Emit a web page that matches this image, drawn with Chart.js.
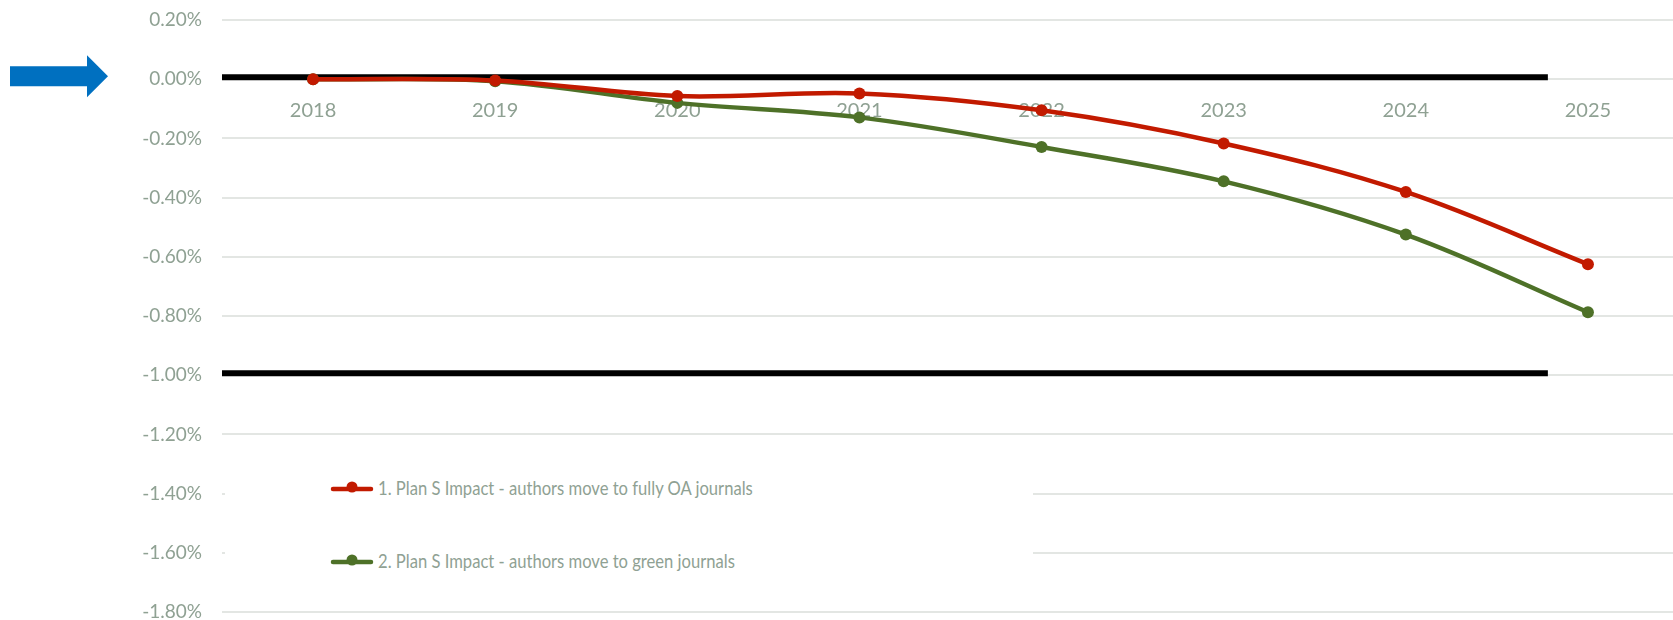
<!DOCTYPE html>
<html>
<head>
<meta charset="utf-8">
<script src="https://cdn.jsdelivr.net/npm/chart.js@4/dist/chart.umd.min.js"></script>
<style>
  html, body { margin: 0; padding: 0; background: #fff; overflow: hidden; }
  #wrap { position: relative; width: 1685px; height: 620px; }
  #legend {
    position: absolute; left: 225px; top: 442px; width: 808px; height: 162px;
    background: #fff; font-family: Lato, "Open Sans", sans-serif; font-size: 20px; color: #8fa193;
  }
  .item { position: absolute; left: 105px; display: flex; align-items: center; height: 24px; white-space: nowrap; }
  .item canvas { margin-right: 4px; }
  .item span { display: inline-block; transform: scaleX(0.83); transform-origin: left center; }
</style>
</head>
<body>
<div id="wrap">
  <canvas id="chart"></canvas>
  <div id="legend"></div>
</div>
<script>
// categorias (anos)
const anos = ['2018', '2019', '2020', '2021', '2022', '2023', '2024', '2025'];
// impacto em % por cenário
const fullyOA = [0, -0.004, -0.057, -0.048, -0.105, -0.217, -0.381, -0.625];
const green = [0, -0.007, -0.080, -0.129, -0.229, -0.345, -0.525, -0.787];
const nomes = [
  '1. Plan S Impact - authors move to fully OA journals',
  '2. Plan S Impact - authors move to green journals'
];
const cores = ['#c21a00', '#4e7128'];
// linhas de referência pretas e limites do eixo
const linhasRef = [0, -1];
const yMin = -1.8, yMax = 0.2, yStep = 0.2;

const tickColor = '#8fa193';

// desenha as linhas pretas e a seta azul
const extras = {
  id: 'extras',
  beforeDatasetsDraw(chart) {
    const c = chart.ctx, x = chart.scales.x, y = chart.scales.y;
    c.save();
    c.strokeStyle = '#000';
    c.lineWidth = 6;
    linhasRef.forEach(v => {
      const py = y.getPixelForValue(v) - 2;
      c.beginPath();
      c.moveTo(chart.chartArea.left, py);
      c.lineTo(x.getPixelForValue(6.78), py);
      c.stroke();
    });
    c.restore();
  },
  afterDraw(chart) {
    const c = chart.ctx, y = chart.scales.y;
    const py = y.getPixelForValue(0) - 3;
    c.save();
    c.fillStyle = '#0070c0';
    c.beginPath();
    c.moveTo(10, py - 10);
    c.lineTo(87, py - 10);
    c.lineTo(87, py - 21);
    c.lineTo(108, py);
    c.lineTo(87, py + 21);
    c.lineTo(87, py + 10);
    c.lineTo(10, py + 10);
    c.closePath();
    c.fill();
    c.restore();
  }
};

const ctx = document.getElementById('chart').getContext('2d');
const chart = new Chart(ctx, {
  type: 'line',
  data: {
    labels: anos,
    datasets: [fullyOA, green].map((d, i) => ({
      label: nomes[i],
      data: d,
      borderColor: cores[i],
      backgroundColor: cores[i],
      borderWidth: 4.5,
      pointRadius: 6,
      pointHoverRadius: 6,
      pointBorderWidth: 0,
      tension: 0.35,
      cubicInterpolationMode: 'default'
    }))
  },
  options: {
    responsive: true,
    maintainAspectRatio: false,
    animation: false,
    events: [],
    layout: { padding: { top: 20, bottom: 8, left: 0, right: 0 } },
    plugins: { legend: { display: false }, tooltip: { enabled: false } },
    scales: {
      x: {
        position: { y: 0 },
        offset: true,
        z: 1,
        afterFit(s) { s.height = 0; s.paddingLeft = 0; s.paddingRight = 0; },
        grid: { display: false, drawTicks: false },
        border: { display: false },
        ticks: {
          color: tickColor,
          padding: 19,
          font: { family: 'Lato', size: 20 },
          maxRotation: 0
        }
      },
      y: {
        min: yMin,
        max: yMax,
        afterFit(s) { s.width = 222; s.paddingTop = 0; s.paddingBottom = 0; },
        grid: { color: '#e3e6e3', lineWidth: 2, drawTicks: false },
        border: { display: false },
        ticks: {
          stepSize: yStep,
          padding: 20,
          color: tickColor,
          font: { family: 'Lato', size: 19 },
          callback: v => v.toFixed(2) + '%'
        }
      }
    }
  },
  plugins: [extras]
});

// legenda em HTML
const legenda = document.getElementById('legend');
chart.data.datasets.forEach((ds, i) => {
  const it = document.createElement('div');
  it.className = 'item';
  it.style.top = (33 + i * 73) + 'px';
  const ic = document.createElement('canvas');
  ic.width = 44; ic.height = 20;
  const g = ic.getContext('2d');
  g.strokeStyle = ds.borderColor; g.fillStyle = ds.borderColor;
  g.lineWidth = 4.5; g.lineCap = 'round';
  g.beginPath(); g.moveTo(3, 12); g.lineTo(41, 12); g.stroke();
  g.beginPath(); g.arc(22, 10, 5.5, 0, Math.PI * 2); g.fill();
  const t = document.createElement('span');
  t.textContent = ds.label;
  it.appendChild(ic); it.appendChild(t);
  legenda.appendChild(it);
});
</script>
</body>
</html>
